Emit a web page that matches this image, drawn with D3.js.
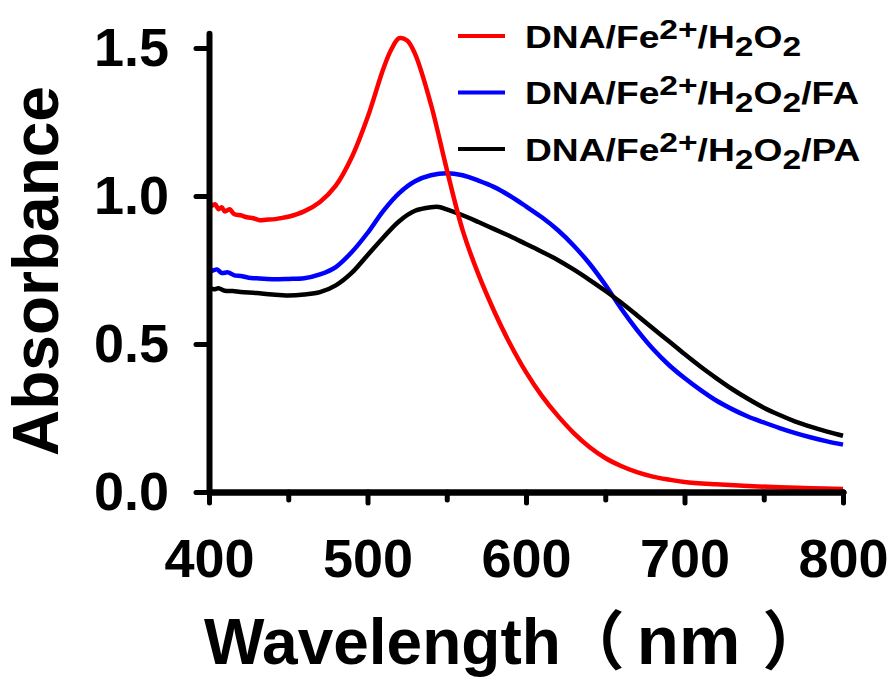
<!DOCTYPE html>
<html>
<head>
<meta charset="utf-8">
<script src="https://cdn.jsdelivr.net/npm/d3@7"></script>
<style>
  body { margin: 0; background: #fff; }
  svg { display: block; font-family: "Liberation Sans", Arial, "Noto Sans CJK SC", sans-serif; font-weight: bold; }
</style>
</head>
<body>
<div id="chart"></div>
<script>
// wavelength (nm) readings for each spectrum
var redWave = [400, 402, 404, 406, 408, 410, 413, 416, 420, 424, 428, 432, 436, 440, 445, 450, 460, 470, 480, 490, 500, 510, 515, 520, 525, 530, 540, 550, 560, 570, 580, 590, 600, 610, 620, 630, 640, 650, 660, 670, 680, 690, 700, 720, 740, 760, 780, 800];
var redAbs  = [0.985, 0.968, 0.972, 0.955, 0.962, 0.948, 0.955, 0.938, 0.935, 0.928, 0.925, 0.918, 0.92, 0.921, 0.925, 0.93, 0.948, 0.98, 1.035, 1.13, 1.265, 1.43, 1.495, 1.533, 1.525, 1.48, 1.31, 1.09, 0.885, 0.735, 0.61, 0.5, 0.405, 0.325, 0.258, 0.2, 0.152, 0.115, 0.088, 0.067, 0.052, 0.042, 0.034, 0.026, 0.02, 0.016, 0.013, 0.01];

var blueWave = [400, 402, 405, 408, 412, 416, 420, 425, 430, 440, 450, 460, 470, 480, 490, 500, 510, 520, 530, 540, 550, 560, 570, 580, 590, 600, 610, 620, 630, 640, 650, 660, 670, 680, 690, 700, 710, 720, 730, 740, 750, 760, 770, 780, 790, 800];
var blueAbs  = [0.762, 0.748, 0.752, 0.74, 0.742, 0.732, 0.73, 0.724, 0.722, 0.719, 0.72, 0.722, 0.735, 0.76, 0.81, 0.875, 0.95, 1.01, 1.05, 1.07, 1.077, 1.07, 1.052, 1.03, 1.0, 0.965, 0.928, 0.885, 0.833, 0.772, 0.7, 0.62, 0.548, 0.484, 0.43, 0.385, 0.345, 0.309, 0.28, 0.255, 0.235, 0.216, 0.199, 0.184, 0.171, 0.16];

var blackWave = [400, 403, 406, 410, 415, 420, 430, 440, 450, 460, 470, 480, 490, 500, 510, 520, 530, 540, 545, 550, 560, 570, 580, 590, 600, 610, 620, 630, 640, 650, 660, 670, 680, 690, 700, 710, 720, 730, 740, 750, 760, 770, 780, 790, 800];
var blackAbs  = [0.692, 0.685, 0.688, 0.68, 0.679, 0.676, 0.672, 0.667, 0.664, 0.667, 0.675, 0.698, 0.74, 0.8, 0.86, 0.915, 0.95, 0.962, 0.963, 0.955, 0.935, 0.912, 0.888, 0.864, 0.838, 0.812, 0.784, 0.752, 0.717, 0.68, 0.64, 0.597, 0.553, 0.51, 0.466, 0.424, 0.385, 0.348, 0.315, 0.285, 0.26, 0.238, 0.22, 0.204, 0.19];

var seriesNames = ["DNA/Fe^{2+}/H_{2}O_{2}", "DNA/Fe^{2+}/H_{2}O_{2}/FA", "DNA/Fe^{2+}/H_{2}O_{2}/PA"];
var seriesColors = ["#ff0000", "#0000ff", "#000000"];

var xMajorTicks = [400, 500, 600, 700, 800];
var xMinorTicks = [450, 550, 650, 750];
var yTicks = [0, 0.5, 1.0, 1.5];

var xTitleParts = ["Wavelength", "（", "nm", "）"];
var yTitle = "Absorbance";

function zipSeries(waves, values) {
  return waves.map(function(w, i) { return { w: w, a: values[i] }; });
}

var series = [
  { name: seriesNames[0], color: seriesColors[0], points: zipSeries(redWave, redAbs) },
  { name: seriesNames[1], color: seriesColors[1], points: zipSeries(blueWave, blueAbs) },
  { name: seriesNames[2], color: seriesColors[2], points: zipSeries(blackWave, blackAbs) }
];

var width = 895, height = 680;
var svg = d3.select("#chart").append("svg")
  .attr("width", width)
  .attr("height", height);

var x = d3.scaleLinear().domain([400, 800]).range([209, 843]);
var y = d3.scaleLinear().domain([0, 1.55]).range([492, 492 - 1.55 * 296]);

drawCurves();
drawAxes();
drawTitles();
drawLegend();

function drawCurves() {
  var line = d3.line()
    .x(function(d) { return x(d.w); })
    .y(function(d) { return y(d.a); })
    .curve(d3.curveCatmullRom.alpha(0.5));
  // blue, black underneath, red on top
  [1, 2, 0].forEach(function(i) {
    svg.append("path")
      .datum(series[i].points)
      .attr("fill", "none")
      .attr("stroke", series[i].color)
      .attr("stroke-width", 4.5)
      .attr("stroke-linejoin", "round")
      .attr("d", line);
  });
}

function styleAxis(g) {
  g.select(".domain").attr("stroke", "#000").attr("stroke-width", 6).attr("stroke-linecap", "round");
  g.selectAll(".tick line").attr("stroke", "#000").attr("stroke-width", 5).attr("stroke-linecap", "round");
  g.selectAll(".tick text")
    .attr("fill", "#000")
    .style("font-size", "54px")
    .style("font-weight", "bold")
    .style("font-family", "'Liberation Sans', Arial, sans-serif");
}

function drawAxes() {
  var xMinor = svg.append("g")
    .attr("transform", "translate(0," + y(0) + ")")
    .call(d3.axisBottom(x).tickValues(xMinorTicks).tickSize(8).tickFormat("").tickSizeOuter(0));
  styleAxis(xMinor);

  var xMajor = svg.append("g")
    .attr("transform", "translate(0," + y(0) + ")")
    .call(d3.axisBottom(x).tickValues(xMajorTicks).tickSize(11).tickPadding(36).tickSizeOuter(0));
  styleAxis(xMajor);

  var yAxis = svg.append("g")
    .attr("transform", "translate(" + x(400) + ",0)")
    .call(d3.axisLeft(y).tickValues(yTicks).tickSize(13).tickPadding(27)
      .tickFormat(d3.format(".1f")).tickSizeOuter(0));
  styleAxis(yAxis);
}

function drawTitles() {
  var xt = svg.append("text")
    .attr("x", 204)
    .attr("y", 664)
    .style("font-size", "64px");
  xt.append("tspan").text(xTitleParts[0]);
  xt.append("tspan").attr("dx", 0).text(xTitleParts[1]);
  xt.append("tspan").attr("dx", 12).style("font-size", "69px").text(xTitleParts[2]);
  xt.append("tspan").attr("dx", 22).text(xTitleParts[3]);

  svg.append("text")
    .attr("transform", "translate(58," + 271 + ") rotate(-90)")
    .attr("text-anchor", "middle")
    .style("font-size", "64px")
    .text(yTitle);
}

// "^{..}" is superscript, "_{..}" subscript
function appendRich(textSel, label, smallSize, shift) {
  var parts = label.split(/([\^_]\{[^}]*\})/).filter(function(s) { return s.length; });
  var offset = 0;
  parts.forEach(function(p) {
    var t = textSel.append("tspan");
    var target = 0;
    if (p[0] === "^") { target = -shift; p = p.slice(2, -1); t.style("font-size", smallSize + "px"); }
    else if (p[0] === "_") { target = shift * 0.9; p = p.slice(2, -1); t.style("font-size", smallSize + "px"); }
    t.attr("dy", target - offset).text(p);
    offset = target;
  });
}

function drawLegend() {
  var legend = svg.append("g");
  series.forEach(function(s, i) {
    var rowY = 36 + i * 56.5;
    legend.append("line")
      .attr("x1", 458).attr("x2", 505)
      .attr("y1", rowY).attr("y2", rowY)
      .attr("stroke", s.color)
      .attr("stroke-width", 4);
    var t = legend.append("text")
      .attr("transform", "translate(525," + (rowY + 11.5) + ") scale(1.2,1)")
      .style("font-size", "31px");
    appendRich(t, s.name, 28, 9);
  });
}
</script>
</body>
</html>
